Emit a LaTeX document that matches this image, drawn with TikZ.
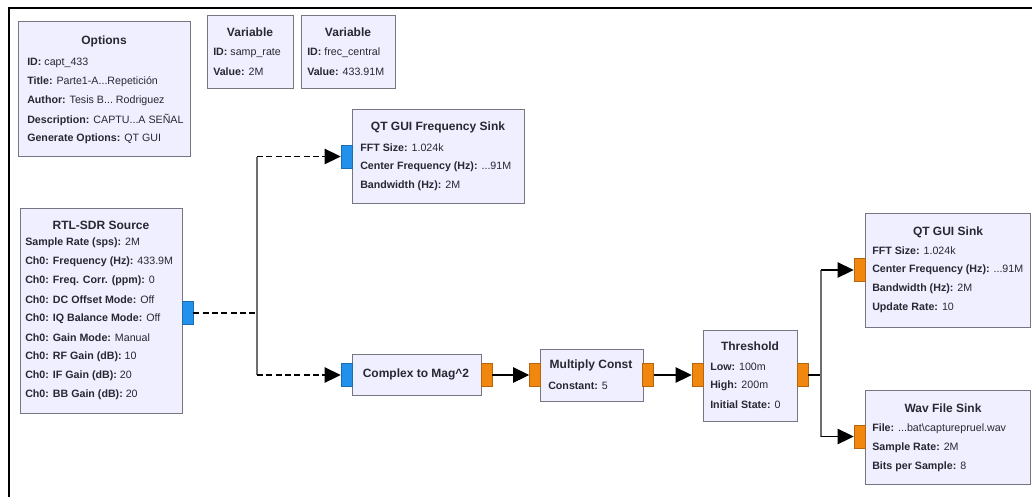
\documentclass[tikz,border=0pt]{standalone}
\usepackage{fontspec}
\setmainfont{Liberation Sans}
\usetikzlibrary{arrows.meta}

\definecolor{blkfill}{RGB}{240,239,255}
\definecolor{blkedge}{RGB}{118,118,128}
\definecolor{portblue}{RGB}{33,145,235}
\definecolor{portorange}{RGB}{242,135,15}
\definecolor{txtgrey}{RGB}{40,40,50}
\definecolor{wiregrey}{RGB}{110,110,110}

\newcommand\elp{...}

\tikzset{
  blk/.style={draw=blkedge, fill=blkfill, line width=1.1pt, anchor=north west, inner sep=0pt},
  ttl/.style={font=\bfseries\fontsize{9}{10}\selectfont, text=txtgrey, inner sep=0pt},
  prm/.style={font=\fontsize{8}{9}\selectfont, text=txtgrey, anchor=west, inner sep=0pt},
  port/.style={inner sep=0pt, minimum width=8.25pt, minimum height=17.25pt, line width=0.4pt},
  cplx/.style={port, fill=portblue, draw=portblue!75!black},
  flt/.style={port, fill=portorange, draw=portorange!75!black},
  wire/.style={line width=0.8pt, black},
  dwire/.style={wire, dash pattern=on 4.5pt off 2.5pt},
  vwire/.style={line width=0.8pt, wiregrey},
  arr/.style={-{Triangle[length=12pt, width=11.5pt]}},
}

\begin{document}
\begin{tikzpicture}[x=0.75pt,y=0.75pt,yscale=-1,xscale=1]
\useasboundingbox (0,0) rectangle (1032,497);

%Shape: Frame
\draw [line width=1.6pt] (9,497) -- (9,8) -- (1032,8) ;

%Shape: Rectangle (Options)
\node [blk, minimum width=129pt, minimum height=101.25pt] (opts) at (18,21) {};
%Shape: Rectangle (Variable samp_rate)
\node [blk, minimum width=64.5pt, minimum height=54.75pt] (varsr) at (207,15) {};
%Shape: Rectangle (Variable frec_central)
\node [blk, minimum width=70.5pt, minimum height=54.75pt] (varfc) at (301,15) {};
%Shape: Rectangle (QT GUI Frequency Sink)
\node [blk, minimum width=129pt, minimum height=70.5pt] (fsink) at (352,109) {};
%Shape: Rectangle (RTL-SDR Source)
\node [blk, minimum width=121.5pt, minimum height=153.75pt] (rtl) at (20,208) {};
%Shape: Rectangle (Complex to Mag^2)
\node [blk, minimum width=96.75pt, minimum height=30.75pt] (c2m) at (352,354) {};
%Shape: Rectangle (Multiply Const)
\node [blk, minimum width=77.25pt, minimum height=39pt] (mc) at (540,349) {};
%Shape: Rectangle (Threshold)
\node [blk, minimum width=70.5pt, minimum height=68.25pt] (th) at (703,330) {};
%Shape: Rectangle (QT GUI Sink)
\node [blk, minimum width=123.75pt, minimum height=85.5pt] (qsink) at (865,213) {};
%Shape: Rectangle (Wav File Sink)
\node [blk, minimum width=123.75pt, minimum height=70.5pt] (wsink) at (865,390) {};

%Ports
\node [cplx] (rtlout) at (187.5,313) {};
\node [cplx] (fsin) at (346.5,156.5) {};
\node [cplx] (c2min) at (346.5,375) {};
\node [flt] (c2mout) at (486.5,375) {};
\node [flt] (mcin) at (535,375) {};
\node [flt] (mcout) at (648,375) {};
\node [flt] (thin) at (697.5,375) {};
\node [flt] (thout) at (802.5,375) {};
\node [flt] (qsin) at (859.5,270) {};
\node [flt] (wsin) at (859.5,436.5) {};

% Text Node
\node [ttl] (opts-t) at (104,41) {Options};
\foreach \t [count=\i] in {{\textbf{ID:} capt\_433},
    {\textbf{Title:} Parte1-A\elp Repetición},
    {\textbf{Author:} Tesis B\elp\ Rodriguez},
    {\textbf{Description:} CAPTU\elp A SEÑAL},
    {\textbf{Generate Options:} QT GUI}}
  \node [prm] (opts-p\i) at (27,{44+19*\i}) {\t};

% Text Node
\node [ttl] (varsr-t) at (250,32) {Variable};
\node [prm] (varsr-p1) at (213,53) {\textbf{ID:} samp\_rate};
\node [prm] (varsr-p2) at (213,72) {\textbf{Value:} 2M};

% Text Node
\node [ttl] (varfc-t) at (348,32) {Variable};
\node [prm] (varfc-p1) at (307,53) {\textbf{ID:} frec\_central};
\node [prm] (varfc-p2) at (307,72) {\textbf{Value:} 433.91M};

% Text Node
\node [ttl] (fsink-t) at (438,127) {QT GUI Frequency Sink};
\foreach \t [count=\i] in {{\textbf{FFT Size:} 1.024k},
    {\textbf{Center Frequency (Hz):} \elp 91M},
    {\textbf{Bandwidth (Hz):} 2M}}
  \node [prm] (fsink-p\i) at (360,{129+19*\i}) {\t};

% Text Node
\node [ttl] (rtl-t) at (101,225) {RTL-SDR Source};
\foreach \t [count=\i] in {{\textbf{Sample Rate (sps):} 2M},
    {\textbf{Ch0: Frequency (Hz):} 433.9M},
    {\textbf{Ch0: Freq. Corr. (ppm):} 0},
    {\textbf{Ch0: DC Offset Mode:} Off},
    {\textbf{Ch0: IQ Balance Mode:} Off},
    {\textbf{Ch0: Gain Mode:} Manual},
    {\textbf{Ch0: RF Gain (dB):} 10},
    {\textbf{Ch0: IF Gain (dB):} 20},
    {\textbf{Ch0: BB Gain (dB):} 20}}
  \node [prm] (rtl-p\i) at (25,{224+19*\i}) {\t};

% Text Node
\node [ttl] (c2m-t) at (416,374) {Complex to Mag\textasciicircum 2};

% Text Node
\node [ttl] (mc-t) at (591,365) {Multiply Const};
\node [prm] (mc-p1) at (548,386) {\textbf{Constant:} 5};

% Text Node
\node [ttl] (th-t) at (750,346) {Threshold};
\foreach \t [count=\i] in {{\textbf{Low:} 100m},
    {\textbf{High:} 200m},
    {\textbf{Initial State:} 0}}
  \node [prm] (th-p\i) at (710,{348+19*\i}) {\t};

% Text Node
\node [ttl] (qsink-t) at (948,232) {QT GUI Sink};
\foreach \t [count=\i] in {{\textbf{FFT Size:} 1.024k},
    {\textbf{Center Frequency (Hz):} \elp 91M},
    {\textbf{Bandwidth (Hz):} 2M},
    {\textbf{Update Rate:} 10}}
  \node [prm] (qsink-p\i) at (872,{232+19*\i}) {\t};

% Text Node
\node [ttl] (wsink-t) at (943,408) {Wav File Sink};
\foreach \t [count=\i] in {{\textbf{File:} \elp bat\textbackslash capturepruel.wav},
    {\textbf{Sample Rate:} 2M},
    {\textbf{Bits per Sample:} 8}}
  \node [prm] (wsink-p\i) at (872,{410+19*\i}) {\t};

%Straight Lines (RTL-SDR fan out)
\coordinate (jrtl) at (257,313);
\draw [dwire] (rtlout.east) -- (jrtl) ;
\draw [vwire] (jrtl |- fsin.west) -- (jrtl |- c2min.west) ;
\draw [dwire, arr] (jrtl |- fsin.west) -- (fsin.west) ;
\draw [dwire, arr] (jrtl |- c2min.west) -- (c2min.west) ;

%Straight Lines (chain)
\draw [wire, arr] (c2mout.east) -- (mcin.west) ;
\draw [wire, arr] (mcout.east) -- (thin.west) ;

%Straight Lines (Threshold fan out)
\coordinate (jth) at (821,375);
\draw [wire] (thout.east) -- (jth) ;
\draw [vwire] (jth |- qsin.west) -- (jth |- wsin.west) ;
\draw [wire, arr] (jth |- qsin.west) -- (qsin.west) ;
\draw [wire, arr] (jth |- wsin.west) -- (wsin.west) ;

\end{tikzpicture}
\end{document}
